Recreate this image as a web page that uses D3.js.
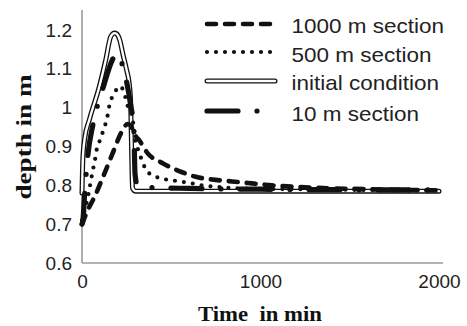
<!DOCTYPE html>
<html><head><meta charset="utf-8">
<script src="https://cdn.jsdelivr.net/npm/d3@7/dist/d3.min.js"></script>
<style>html,body{margin:0;padding:0;background:#fff;}</style>
</head><body>
<svg id="c" width="467" height="326"></svg>
<script>
// ---- data ----
const xTicks = [0, 1000, 2000];
const yTicks = [0.6, 0.7, 0.8, 0.9, 1.0, 1.1, 1.2];
const yTickLabels = ["0.6", "0.7", "0.8", "0.9", "1", "1.1", "1.2"];
const seriesNames = ["1000 m section", "500 m section", "initial condition", "10 m section"];

const time1000 = [0,33,70,126,172,218,256,270,302,322,367,452,554,637,748,840,952,1063,1300,1600,2000];
const depth1000 = [0.70,0.737,0.77,0.831,0.883,0.934,0.958,0.955,0.926,0.915,0.883,0.857,0.835,0.822,0.814,0.81,0.805,0.80,0.794,0.79,0.787];

const time500 = [0,20,35,44,54,63,70,80,98,117,144,154,172,200,212,230,257,283,294,322,341,368,415,461,517,563,618,665,730,900,1200,2000];
const depth500 = [0.71,0.745,0.775,0.797,0.822,0.844,0.857,0.887,0.913,0.938,0.981,1.007,1.03,1.05,1.055,1.046,1.003,0.973,0.926,0.883,0.857,0.835,0.822,0.816,0.812,0.809,0.805,0.80,0.797,0.792,0.79,0.787];

const timeInit = [0,5,15,42,97,133,161,182,194,211,230,250,264,272,278,283,300,2000];
const depthInit = [0.78,0.87,0.92,0.97,1.054,1.123,1.183,1.192,1.19,1.175,1.136,1.097,1.064,1.02,0.89,0.793,0.785,0.785];

const time10 = [0,5,15,33,61,117,172,192,215,237,274,290,297,310,360,600,1000,2000];
const depth10 = [0.70,0.71,0.78,0.878,0.956,1.05,1.125,1.14,1.125,1.093,1.003,0.95,0.83,0.80,0.795,0.792,0.79,0.788];

// ---- layout ----
const svg = d3.select("#c");
const x = d3.scaleLinear().domain([0, 2000]).range([82, 439]);
const y = d3.scaleLinear().domain([0.6, 1.2]).range([263, 30]);
const axisColor = "#9a9a9a";

svg.append("line").attr("x1", x(0)).attr("x2", 443).attr("y1", y(0.6)).attr("y2", y(0.6))
  .attr("stroke", axisColor).attr("stroke-width", 1.6);
svg.append("line").attr("x1", x(0)).attr("x2", x(0)).attr("y1", y(0.6)).attr("y2", 10)
  .attr("stroke", axisColor).attr("stroke-width", 1.6);

const yAxis = d3.axisLeft(y).tickValues(yTicks).tickSize(0).tickPadding(10)
  .tickFormat((d, i) => yTickLabels[i]);
const gy = svg.append("g").attr("transform", `translate(${x(0)},0)`).call(yAxis);
gy.select(".domain").remove();
gy.selectAll("text").attr("font-family", "Liberation Sans, Arial, sans-serif")
  .attr("font-size", 19).attr("fill", "#222");

const xAxis = d3.axisBottom(x).tickValues(xTicks).tickSize(0).tickPadding(12)
  .tickFormat(d3.format("d"));
const gx = svg.append("g").attr("transform", `translate(0,${y(0.6)})`).call(xAxis);
gx.select(".domain").remove();
gx.selectAll("text").attr("font-family", "Liberation Sans, Arial, sans-serif")
  .attr("font-size", 19).attr("fill", "#222");

svg.append("text").attr("x", 260).attr("y", 321).attr("text-anchor", "middle")
  .attr("font-family", "Liberation Serif, Times New Roman, serif").attr("font-weight", "bold")
  .attr("font-size", 21).attr("textLength", 124).attr("lengthAdjust", "spacingAndGlyphs")
  .attr("fill", "#111").attr("xml:space", "preserve").style("white-space", "pre").text("Time  in min");
svg.append("text").attr("transform", "translate(31,137) rotate(-90)").attr("text-anchor", "middle")
  .attr("font-family", "Liberation Serif, Times New Roman, serif").attr("font-weight", "bold")
  .attr("font-size", 21).attr("textLength", 125).attr("lengthAdjust", "spacingAndGlyphs")
  .attr("fill", "#111").text("depth in m");

// ---- series ----
const line = d3.line().x(d => x(d[0])).y(d => y(d[1])).curve(d3.curveMonotoneX);
const pts = (t, v) => t.map((d, i) => [d, v[i]]);

const styles = [
  {w: 4.6, dash: "9 9", cap: "round"},
  {w: 4.2, dash: "0 9", cap: "round"},
  {w: 5, dash: null, cap: "round", dbl: true},
  {w: 5.2, dash: "31 19 0 19", cap: "round"}
];
const data = [pts(time1000, depth1000), pts(time500, depth500), pts(timeInit, depthInit), pts(time10, depth10)];

function drawPath(g, d, s, gen) {
  if (s.dbl) {
    g.append("path").attr("d", gen(d)).attr("fill", "none").attr("stroke", "#111")
      .attr("stroke-width", s.w).attr("stroke-linecap", "round").attr("stroke-linejoin", "round");
    g.append("path").attr("d", gen(d)).attr("fill", "none").attr("stroke", "#fff")
      .attr("stroke-width", s.w - 2.6).attr("stroke-linecap", "round").attr("stroke-linejoin", "round");
  } else {
    g.append("path").attr("d", gen(d)).attr("fill", "none").attr("stroke", "#111")
      .attr("stroke-width", s.w).attr("stroke-linecap", s.cap).attr("stroke-linejoin", "round")
      .attr("stroke-dasharray", s.dash);
  }
}

const plot = svg.append("g");
[2, 3, 1, 0].forEach(i => drawPath(plot, data[i], styles[i], line));

// ---- legend ----
const legY = [24, 52, 81, 111];
const legTextY = [33, 61.5, 90, 121];
const lg = svg.append("g");
const straight = d3.line();
seriesNames.forEach((name, i) => {
  drawPath(lg, [[207, legY[i]], [275, legY[i]]], styles[i], straight);
  const t = lg.append("text").attr("x", 291.5).attr("y", legTextY[i])
    .attr("font-family", "Liberation Sans, Arial, sans-serif").attr("font-size", 21)
    .attr("fill", "#222").text(name);
  const L = t.node().getComputedTextLength();
  t.attr("textLength", L * 1.07).attr("lengthAdjust", "spacingAndGlyphs");
});
</script>
</body></html>
